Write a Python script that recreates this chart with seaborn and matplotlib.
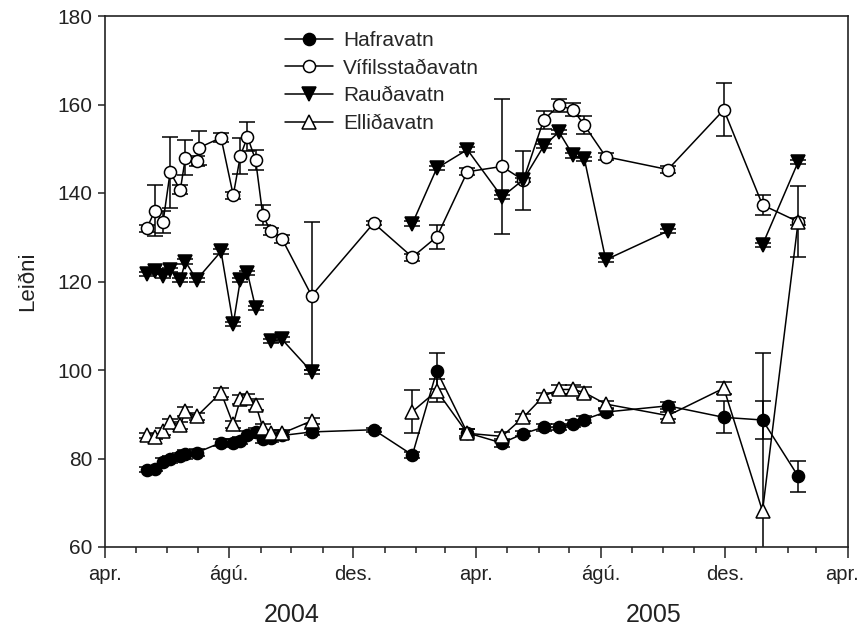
import numpy as np
import pandas as pd
import matplotlib
matplotlib.use("Agg")
import matplotlib.pyplot as plt
import matplotlib.dates as mdates
import matplotlib.transforms as mtransforms
from matplotlib.lines import Line2D
from matplotlib.ticker import FuncFormatter
import seaborn as sns

# ---------------- data ----------------
dates = ['2004-05-12', '2004-05-20', '2004-05-28', '2004-06-04', '2004-06-14', '2004-06-19',
         '2004-06-30', '2004-07-24', '2004-08-05', '2004-08-12', '2004-08-19', '2004-08-27',
         '2004-09-03', '2004-09-11', '2004-09-22', '2004-10-21',
         '2004-12-21', '2005-01-28', '2005-02-21', '2005-03-23', '2005-04-26', '2005-05-17',
         '2005-06-06', '2005-06-21', '2005-07-05', '2005-07-16', '2005-08-06', '2005-10-06',
         '2005-11-30', '2006-01-07', '2006-02-11']

vif_dates = ['2004-05-12', '2004-05-20', '2004-05-28', '2004-06-04', '2004-06-14', '2004-06-19',
             '2004-06-30', '2004-07-02', '2004-07-24', '2004-08-05', '2004-08-12', '2004-08-19',
             '2004-08-27', '2004-09-03', '2004-09-11', '2004-09-22', '2004-10-21',
             '2004-12-21', '2005-01-28', '2005-02-21', '2005-03-23', '2005-04-26', '2005-05-17',
             '2005-06-06', '2005-06-21', '2005-07-05', '2005-07-16', '2005-08-06', '2005-10-06',
             '2005-11-30', '2006-01-07', '2006-02-11']

haf_vals = [77.5, 77.7, 79.3, 79.8, 80.5, 81.0, 81.3, 83.6, 83.5, 84.0, 85.4, 85.9, 84.4, 84.6, 85.2, 86.0,
            86.5, 80.8, 99.8, 85.8, 83.5, 85.6, 87.1, 87.1, 87.9, 88.8, 90.5, 91.9, 89.3, 88.7, 76.0]
haf_err = [0.6, 0.6, 0.8, 0.8, 0.8, 1.0, 0.8, 0.8, 0.8, 0.8, 0.8, 1.0, 0.8, 0.8, 0.8, 0.6,
           0.5, 0.6, 4.0, 0.8, 0.8, 0.6, 0.8, 0.6, 0.8, 0.8, 0.6, 0.8, 3.6, 4.2, 3.5]

vif_vals = [132.0, 136.0, 133.4, 144.7, 140.7, 148.0, 147.2, 150.2, 152.5, 139.5, 148.4, 152.7,
            147.4, 135.0, 131.3, 129.6, 116.8,
            133.2, 125.5, 130.1, 144.8, 146.0, 142.9, 156.5, 159.8, 158.8, 155.3, 148.2, 145.3,
            158.8, 137.3, 133.5]
vif_err = [0.8, 5.8, 2.5, 8.0, 1.0, 3.9, 1.2, 3.8, 1.0, 0.8, 4.0, 3.3,
           2.3, 2.2, 0.8, 0.8, 16.7,
           0.5, 0.8, 2.7, 0.8, 15.2, 6.7, 2.0, 1.5, 1.5, 2.0, 0.8, 0.8,
           6.0, 2.2, 8.0]

rau_vals = [121.7, 122.3, 121.3, 122.6, 120.4, 124.5, 120.4, 126.8, 110.4, 120.4, 121.9, 114.0,
            np.nan, 106.5, 106.9, 99.6,
            np.nan, 133.1, 145.6, 149.8, 139.1, 143.0, 150.6, 153.8, 148.5, 147.7, 124.9, 131.4,
            np.nan, 128.3, 147.0]
rau_err = [0.5] * 31

ell_vals = [85.2, 84.9, 86.2, 88.2, 87.5, 90.7, 89.5, 94.9, 87.7, 93.4, 93.7, 92.2, 87.0, 85.7, 85.7, 88.5,
            np.nan, 90.6, 95.3, 85.7, 85.0, 89.3, 94.1, 95.6, 95.6, 94.9, 92.3, 89.7, 95.9, 68.1, 133.5]
ell_err = [0.6, 0.6, 0.8, 0.8, 0.8, 1.0, 0.8, 1.0, 0.8, 1.0, 0.8, 1.2, 0.8, 0.8, 0.8, 0.6,
           np.nan, 4.8, 2.6, 1.0, 1.0, 0.8, 0.8, 1.0, 1.0, 1.2, 0.8, 0.8, 1.3, 35.8, 0.8]

series_names = ['Hafravatn', 'Vífilsstaðavatn', 'Rauðavatn', 'Elliðavatn']
month_names = {4: 'apr.', 8: 'ágú.', 12: 'des.'}
year_labels = ['2004', '2005']
year_label_dates = ['2004-10-01', '2005-09-22']

# ---------------- style ----------------
sns.set_theme(style="ticks")
plt.rcParams['font.family'] = ['Liberation Sans', 'DejaVu Sans']

W, H = 861, 630
fig = plt.figure(figsize=(W / 100, H / 100), dpi=100)
x0, x1, y0, y1 = 105, 848, 16, 547
ax = fig.add_axes([x0 / W, (H - y1) / H, (x1 - x0) / W, (y1 - y0) / H])

styles = {
    'Hafravatn': dict(marker='o', mfc='black', ms=8.7),
    'Vífilsstaðavatn': dict(marker='o', mfc='white', ms=8.7),
    'Rauðavatn': dict(marker='v', mfc='black', ms=9.5),
    'Elliðavatn': dict(marker='^', mfc='white', ms=9.5),
}

series_data = [
    ('Hafravatn', dates, haf_vals, haf_err),
    ('Vífilsstaðavatn', vif_dates, vif_vals, vif_err),
    ('Rauðavatn', dates, rau_vals, rau_err),
    ('Elliðavatn', dates, ell_vals, ell_err),
]

for name, d, v, e in series_data:
    df = pd.DataFrame({'date': pd.to_datetime(d), 'value': v, 'err': e})
    df['segment'] = df['value'].isna().cumsum()
    df = df.dropna(subset=['value'])
    st = styles[name]
    ax.errorbar(df['date'], df['value'], yerr=df['err'], fmt='none', ecolor='black',
                elinewidth=1.1, capsize=6, capthick=1.1, zorder=2)
    sns.lineplot(data=df, x='date', y='value', units='segment', estimator=None,
                 color='black', lw=1.1, marker=st['marker'], markersize=st['ms'],
                 markerfacecolor=st['mfc'], markeredgecolor='black', markeredgewidth=1.1,
                 ax=ax, zorder=3, legend=False)

ax.set_xlim(pd.Timestamp('2004-04-01'), pd.Timestamp('2006-04-01'))
ax.set_ylim(60, 180)
ax.set_yticks(np.arange(60, 181, 20))

ax.xaxis.set_major_locator(mdates.MonthLocator(bymonth=list(month_names.keys())))
ax.xaxis.set_minor_locator(mdates.MonthLocator())
ax.xaxis.set_major_formatter(FuncFormatter(lambda x, pos: month_names.get(mdates.num2date(x).month, '')))

for s in ax.spines.values():
    s.set_visible(True)
    s.set_color('#222222')
    s.set_linewidth(1.2)

ax.tick_params(axis='y', which='major', length=5, width=1.1, direction='out',
               labelsize=15, colors='#222222', labelcolor='#222222', pad=4)
ax.tick_params(axis='x', which='major', length=8, width=1.1, direction='out',
               labelsize=14.5, colors='#222222', labelcolor='#222222', pad=5)
ax.tick_params(axis='x', which='minor', length=4, width=1.1, direction='out', colors='#222222')

ax.set_xlabel('')
ax.set_ylabel('Leiðni', fontsize=16, color='#222222', labelpad=14)

trans = mtransforms.blended_transform_factory(ax.transData, ax.transAxes)
for lab, dt in zip(year_labels, year_label_dates):
    ax.text(mdates.date2num(pd.Timestamp(dt)), -0.128, lab, transform=trans,
            ha='center', va='center', fontsize=18, color='#222222')

handles = [Line2D([], [], color='black', lw=1.1, marker=styles[n]['marker'],
                  markersize=styles[n]['ms'], markerfacecolor=styles[n]['mfc'],
                  markeredgecolor='black', markeredgewidth=1.1) for n in series_names]
ax.legend(handles, series_names, loc='upper left', bbox_to_anchor=(0.242, 0.972),
          frameon=False, fontsize=15, handlelength=2.3, handletextpad=0.5,
          labelspacing=0.42, borderpad=0, borderaxespad=0)

# keep the last "apr." label inside the figure, as in the reference
fig.canvas.draw()
last_tick = ax.xaxis.get_major_ticks()[-1]
last_tick.label1.set_transform(last_tick.label1.get_transform() +
                               mtransforms.ScaledTranslation(-0.06, 0, fig.dpi_scale_trans))

fig.savefig('out.png', dpi=100, facecolor='white')
